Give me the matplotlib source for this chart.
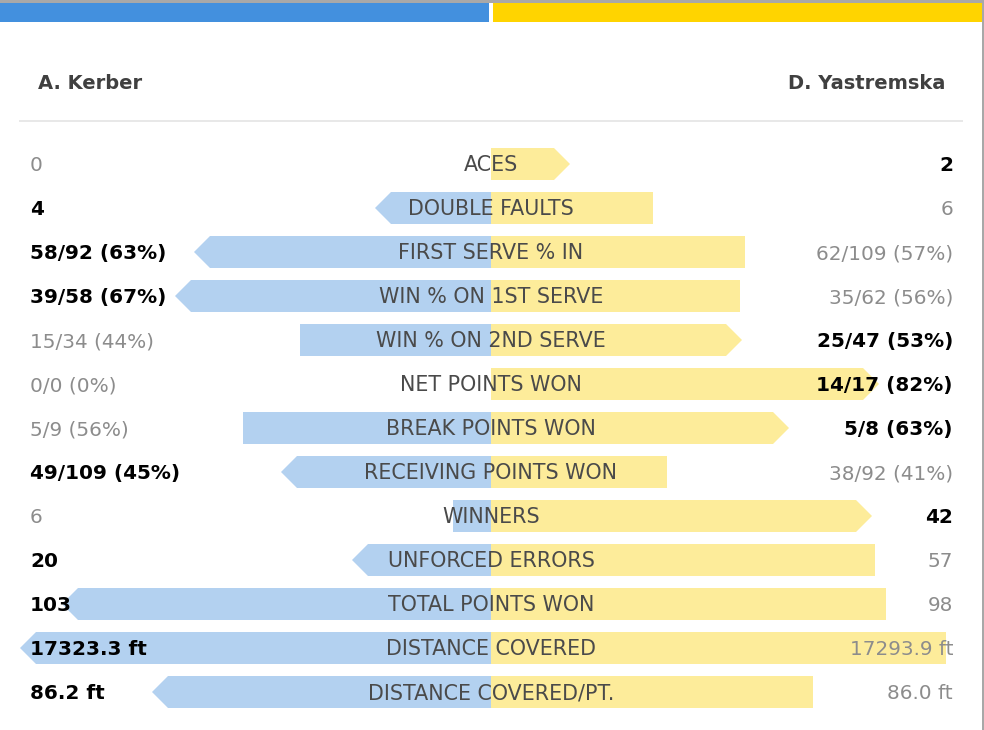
import matplotlib
matplotlib.use("Agg")
import matplotlib.pyplot as plt

# ---------------- data ----------------
player_left = "A. Kerber"
player_right = "D. Yastremska"

categories = ["ACES", "DOUBLE FAULTS", "FIRST SERVE % IN", "WIN % ON 1ST SERVE",
              "WIN % ON 2ND SERVE", "NET POINTS WON", "BREAK POINTS WON",
              "RECEIVING POINTS WON", "WINNERS", "UNFORCED ERRORS",
              "TOTAL POINTS WON", "DISTANCE COVERED", "DISTANCE COVERED/PT."]

kerber_values = ["0", "4", "58/92 (63%)", "39/58 (67%)", "15/34 (44%)", "0/0 (0%)",
                 "5/9 (56%)", "49/109 (45%)", "6", "20", "103", "17323.3 ft", "86.2 ft"]
yastremska_values = ["2", "6", "62/109 (57%)", "35/62 (56%)", "25/47 (53%)", "14/17 (82%)",
                     "5/8 (63%)", "38/92 (41%)", "42", "57", "98", "17293.9 ft", "86.0 ft"]

# which player leads the stat ("L" = Kerber, "R" = Yastremska)
leader = ["R", "L", "L", "L", "R", "R", "R", "L", "R", "L", "L", "L", "L"]

# bar lengths (pixels from the centre line)
kerber_bar = [0, 100, 281, 300, 191, 0, 248, 194, 38, 123, 413, 455, 323]
yastremska_bar = [63, 162, 254, 249, 235, 372, 282, 176, 365, 384, 395, 455, 322]

# ---------------- style ----------------
W, H = 984, 730
CX = 491
ROW0, ROW_STEP, BAR_H, TIP = 164, 44, 32, 16
BLUE_BAR, YELLOW_BAR = "#b3d1f0", "#fdec9a"
BLUE_TOP, YELLOW_TOP = "#4390de", "#ffd400"
LABEL_C, NAME_C = "#4a4a4a", "#404040"
WIN_C, LOSE_C = "#000000", "#8c8c8c"
FONT = ["DejaVu Sans"]

fig = plt.figure(figsize=(W / 100, H / 100), dpi=100)
ax = fig.add_axes([0, 0, 1, 1])
ax.set_xlim(0, W)
ax.set_ylim(H, 0)
ax.axis("off")

PT = 72 / 100  # points per pixel

# top bands
ax.fill([0, W, W, 0], [0, 0, 3, 3], color="#a8a8a8", lw=0)
ax.fill([0, 489, 489, 0], [3, 3, 22, 22], color=BLUE_TOP, lw=0)
ax.fill([493, 983, 983, 493], [3, 3, 22, 22], color=YELLOW_TOP, lw=0)
ax.fill([982, W, W, 982], [0, 0, H, H], color="#a8a8a8", lw=0)

# player names
ax.text(38, 89, player_left, ha="left", va="baseline", fontsize=19.5 * PT,
        fontweight="bold", color=NAME_C, family=FONT)
ax.text(945, 89, player_right, ha="right", va="baseline", fontsize=19.5 * PT,
        fontweight="bold", color=NAME_C, family=FONT)
ax.plot([19, 963], [121, 121], color="#e8e8e8", lw=2 * PT, solid_capstyle="butt")

for i, cat in enumerate(categories):
    yc = ROW0 + i * ROW_STEP
    top, bot = yc - BAR_H / 2, yc + BAR_H / 2
    # left (blue) bar
    L = kerber_bar[i]
    if L > 0:
        xe = CX - L
        if leader[i] == "L":
            ax.fill([CX, xe, xe - TIP, xe, CX], [top, top, yc, bot, bot], color=BLUE_BAR, lw=0)
        else:
            ax.fill([CX, xe, xe, CX], [top, top, bot, bot], color=BLUE_BAR, lw=0)
    # right (yellow) bar
    R = yastremska_bar[i]
    if R > 0:
        xe = CX + R
        if leader[i] == "R":
            ax.fill([CX, xe, xe + TIP, xe, CX], [top, top, yc, bot, bot], color=YELLOW_BAR, lw=0)
        else:
            ax.fill([CX, xe, xe, CX], [top, top, bot, bot], color=YELLOW_BAR, lw=0)

    base = yc + 7.3
    ax.text(CX, base, cat, ha="center", va="baseline", fontsize=20.6 * PT,
            color=LABEL_C, family=FONT)
    lw_ = leader[i] == "L"
    ax.text(30, base, kerber_values[i], ha="left", va="baseline", fontsize=20 * PT,
            color=WIN_C if lw_ else LOSE_C, fontweight="bold" if lw_ else "normal",
            family=FONT)
    ax.text(953, base, yastremska_values[i], ha="right", va="baseline", fontsize=20 * PT,
            color=LOSE_C if lw_ else WIN_C, fontweight="normal" if lw_ else "bold",
            family=FONT)

fig.savefig("out.png", dpi=100)
